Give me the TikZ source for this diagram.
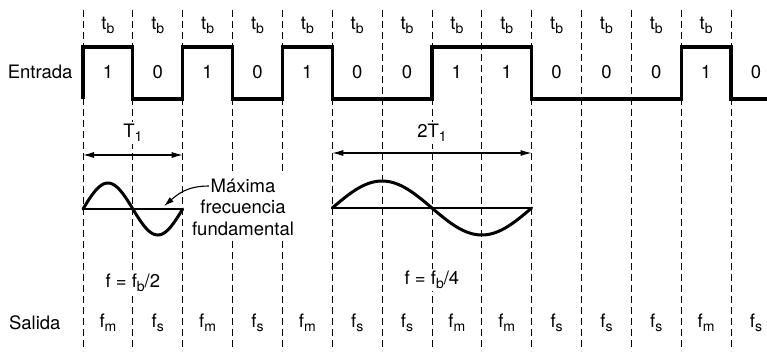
\documentclass[tikz,border=0pt]{standalone}
\usepackage{fontspec}
\setmainfont{TeX Gyre Heros}
\usetikzlibrary{arrows.meta, math}
\newcommand{\subt}[1]{\raisebox{-0.4ex}{\fontsize{14}{14}\selectfont #1}}

\begin{document}
\begin{tikzpicture}[x=1pt, y=-1pt, font=\fontsize{18.5}{21.5}\selectfont,
  grid/.style={dash pattern=on 7pt off 4pt, line width=0.8pt},
  signal/.style={line width=3.2pt, line join=miter},
  wave/.style={line width=3pt, line cap=round},
  lbl/.style={fill=white, inner sep=2pt},
  span/.style={{Latex[length=11pt,width=6pt]}-{Latex[length=11pt,width=6pt]}, line width=1.1pt}]
\tikzmath{
\xo=83;
\tb=49.85;
\hi=47;
\lo=99;
\A=26;
}
\useasboundingbox (0,0) rectangle (767,351);

% bit boundaries
\foreach \i in {0,...,13}
  \draw[grid] (\xo+\i*\tb,10) -- (\xo+\i*\tb,351);

% input bits
\foreach \b [count=\i from 0] in {1,0,1,0,1,0,0,1,1,0,0,0,1,0}{
  \node (bit\i) at (\xo+\i*\tb+\tb/2,72) {\b};
  \ifnum\b=1
    \node (out\i) at (\xo+\i*\tb+\tb/2,323) {f\subt{m}};
  \else
    \node (out\i) at (\xo+\i*\tb+\tb/2,323) {f\subt{s}};
  \fi
}
\foreach \i in {0,...,12}
  \node (tb\i) at (\xo+\i*\tb+\tb/2,25) {t\subt{b}};

\node[anchor=east] (entrada) at (\xo-7,72) {Entrada};
\node[anchor=east] (salida) at (64,323) {Salida};

\draw[signal] (\xo,\lo) -- (\xo,\hi) -- (\xo+\tb,\hi) -- (\xo+\tb,\lo)
  -- (\xo+2*\tb,\lo) -- (\xo+2*\tb,\hi) -- (\xo+3*\tb,\hi) -- (\xo+3*\tb,\lo)
  -- (\xo+4*\tb,\lo) -- (\xo+4*\tb,\hi) -- (\xo+5*\tb,\hi) -- (\xo+5*\tb,\lo)
  -- (\xo+7*\tb,\lo) -- (\xo+7*\tb,\hi) -- (\xo+9*\tb,\hi) -- (\xo+9*\tb,\lo)
  -- (\xo+12*\tb,\lo) -- (\xo+12*\tb,\hi) -- (\xo+13*\tb,\hi) -- (\xo+13*\tb,\lo)
  -- (767,\lo);

% periods
\node[lbl] (T1) at (\xo+\tb,133) {T\subt{1}};
\coordinate (T1a) at (\xo,155);
\coordinate (T1b) at (\xo+2*\tb,155);
\draw[span] (T1a) -- (T1b);

\node[lbl] (T2) at (\xo+7*\tb,133) {2T\subt{1}};
\coordinate (T2a) at (\xo+5*\tb,153);
\coordinate (T2b) at (\xo+9*\tb,153);
\draw[span] (T2a) -- (T2b);

% sine waves
\coordinate (s1a) at (\xo,209);
\coordinate (s1b) at (\xo+2*\tb,209);
\draw[line width=1.2pt] (s1a) -- (s1b);
\draw[wave] plot[domain=0:360, samples=73, smooth] ({\xo+\x/360*2*\tb},{209-\A*sin(\x)});

\coordinate (s2a) at (\xo+5*\tb,208);
\coordinate (s2b) at (\xo+9*\tb,208);
\draw[line width=1.2pt] (s2a) -- (s2b);
\draw[wave] plot[domain=0:360, samples=73, smooth] ({\xo+5*\tb+\x/360*4*\tb},{208-(\A+1)*sin(\x)});

\node[lbl, align=center, inner xsep=5pt, inner ysep=6pt] (maxf) at (243,207) {Máxima\\frecuencia\\fundamental};
\coordinate (tail) at (209,186);
\coordinate (tip) at (164,206);
\draw[-{Latex[length=10pt,width=6pt]}, line width=1.1pt] (tail) .. controls +(-22,0) and +(14,-12) .. (tip);

\node[lbl] (f2) at (\xo+\tb,283) {f = f\subt{b}/2};
\node[lbl] (f4) at (\xo+7*\tb,280) {f = f\subt{b}/4};

\end{tikzpicture}
\end{document}
